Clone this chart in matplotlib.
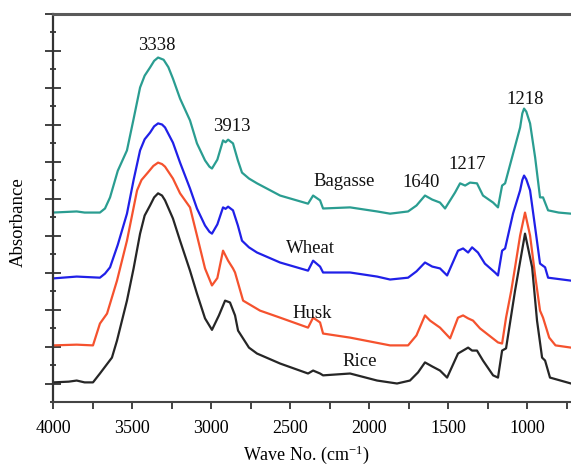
import matplotlib
matplotlib.use("Agg")
import matplotlib.pyplot as plt
from matplotlib.ticker import MultipleLocator, NullFormatter

plt.rcParams['font.family'] = ['Liberation Serif', 'DejaVu Serif']
plt.rcParams['mathtext.fontset'] = 'custom'
plt.rcParams['mathtext.rm'] = 'Liberation Serif'
plt.rcParams['mathtext.it'] = 'Liberation Serif:italic'

# ---- data (wavenumber cm-1, absorbance in arbitrary offset units) ----
wn_bagasse = [4000, 3900, 3850, 3800, 3703, 3671, 3639, 3590, 3532, 3490, 3449, 3420, 3386, 3360, 3335,
              3300, 3270, 3241, 3196, 3133, 3089, 3038, 3010, 2994, 2960, 2924, 2908, 2892, 2861, 2830,
              2804, 2760, 2709, 2563, 2386, 2354, 2310, 2291, 2120, 1949, 1867, 1753, 1700, 1646, 1600,
              1551, 1519, 1456, 1424, 1392, 1361, 1317, 1279, 1215, 1184, 1158, 1139, 1095, 1044, 1030,
              1019, 1005, 981, 949, 918, 899, 867, 800, 722]
abs_bagasse = [4.62, 4.64, 4.65, 4.62, 4.62, 4.73, 5.03, 5.75, 6.30, 7.15, 8.00, 8.32, 8.54, 8.72, 8.81,
               8.75, 8.55, 8.24, 7.70, 7.11, 6.49, 6.03, 5.86, 5.81, 6.05, 6.57, 6.52, 6.59, 6.49, 6.03,
               5.70, 5.54, 5.41, 5.08, 4.86, 5.08, 4.95, 4.73, 4.76, 4.65, 4.59, 4.65, 4.81, 5.08, 4.97,
               4.89, 4.73, 5.16, 5.41, 5.35, 5.43, 5.41, 5.08, 4.89, 4.76, 5.35, 5.41, 6.11, 6.92, 7.30,
               7.43, 7.35, 7.03, 6.11, 5.03, 5.03, 4.68, 4.62, 4.59]

wn_wheat = [4000, 3850, 3703, 3671, 3639, 3590, 3532, 3490, 3449, 3420, 3386, 3360, 3335, 3310, 3291,
            3241, 3196, 3133, 3089, 3038, 3010, 2994, 2960, 2924, 2908, 2892, 2861, 2830, 2804, 2760,
            2709, 2563, 2386, 2354, 2310, 2291, 2120, 1949, 1867, 1753, 1700, 1646, 1600, 1551, 1506,
            1437, 1405, 1373, 1348, 1311, 1267, 1203, 1184, 1158, 1139, 1089, 1044, 1030, 1019, 1005,
            981, 949, 918, 886, 867, 722]
abs_wheat = [2.84, 2.89, 2.86, 2.97, 3.14, 3.75, 4.59, 5.50, 6.30, 6.60, 6.78, 6.95, 7.03, 7.00, 6.92,
             6.51, 5.97, 5.27, 4.73, 4.27, 4.10, 4.05, 4.30, 4.76, 4.72, 4.78, 4.68, 4.27, 3.86, 3.68,
             3.54, 3.27, 3.05, 3.32, 3.16, 3.00, 3.00, 2.89, 2.81, 2.86, 3.03, 3.27, 3.16, 3.11, 2.92,
             3.59, 3.65, 3.54, 3.68, 3.54, 3.24, 3.00, 2.92, 3.59, 3.65, 4.59, 5.22, 5.50, 5.62, 5.52,
             5.22, 4.22, 3.24, 3.14, 2.86, 2.78]

wn_husk = [4000, 3850, 3747, 3703, 3658, 3595, 3532, 3468, 3440, 3400, 3365, 3335, 3310, 3291, 3241,
           3196, 3133, 3089, 3038, 2994, 2960, 2924, 2892, 2861, 2848, 2797, 2690, 2563, 2386, 2354,
           2310, 2291, 2120, 1867, 1753, 1700, 1646, 1614, 1551, 1487, 1437, 1405, 1373, 1342, 1298,
           1184, 1158, 1133, 1100, 1076, 1044, 1013, 981, 949, 918, 899, 860, 820, 722]
abs_husk = [1.03, 1.05, 1.03, 1.62, 1.89, 2.78, 3.86, 5.22, 5.50, 5.70, 5.88, 5.97, 5.93, 5.86, 5.54,
            5.14, 4.76, 4.00, 3.11, 2.65, 2.85, 3.59, 3.32, 3.11, 3.00, 2.24, 1.97, 1.78, 1.51, 1.78,
            1.65, 1.35, 1.24, 1.03, 1.03, 1.30, 1.84, 1.70, 1.51, 1.22, 1.78, 1.84, 1.76, 1.70, 1.49,
            1.11, 1.08, 1.78, 2.51, 3.14, 4.00, 4.62, 4.00, 2.92, 1.97, 1.78, 1.24, 1.03, 0.97]

wn_rice = [4000, 3900, 3850, 3800, 3747, 3703, 3627, 3595, 3532, 3490, 3449, 3420, 3386, 3360, 3335,
           3310, 3291, 3241, 3196, 3133, 3089, 3038, 2994, 2950, 2911, 2880, 2848, 2829, 2760, 2709,
           2563, 2386, 2354, 2310, 2291, 2120, 1949, 1823, 1741, 1690, 1646, 1600, 1551, 1506, 1437,
           1405, 1373, 1348, 1317, 1279, 1215, 1184, 1158, 1133, 1076, 1013, 968, 937, 905, 886, 855,
           722]
abs_rice = [0.03, 0.05, 0.08, 0.03, 0.03, 0.27, 0.70, 1.16, 2.24, 3.11, 4.05, 4.54, 4.81, 5.03, 5.14,
            5.08, 4.95, 4.46, 3.86, 3.05, 2.43, 1.76, 1.45, 1.84, 2.24, 2.19, 1.84, 1.43, 0.97, 0.81,
            0.54, 0.27, 0.35, 0.27, 0.22, 0.27, 0.08, 0.00, 0.08, 0.30, 0.57, 0.46, 0.35, 0.16, 0.81,
            0.89, 0.97, 0.89, 0.89, 0.62, 0.22, 0.16, 0.89, 0.95, 2.51, 4.05, 3.14, 1.70, 0.70, 0.62,
            0.16, 0.00]

series_names = ["Bagasse", "Wheat", "Husk", "Rice"]
series_colors = ["#2a9d91", "#2020e8", "#f5522e", "#262626"]

# annotations: (text, wavenumber, absorbance)
annotations = [("3338", 3340, 9.14), ("3913", 2867, 6.95), ("Bagasse", 2158, 5.46),
               ("1640", 1671, 5.43), ("1217", 1380, 5.93), ("1218", 1013, 7.68),
               ("Wheat", 2373, 3.65), ("Husk", 2361, 1.89), ("Rice", 2057, 0.59)]

xticks = [4000, 3500, 3000, 2500, 2000, 1500, 1000]

# ---- figure ----
W, H = 571, 466
fig = plt.figure(figsize=(W / 100, H / 100), dpi=100)
ax = fig.add_axes([53 / W, (H - 402) / H, (W - 53) / W, (402 - 13.5) / H])

xs = [wn_bagasse, wn_wheat, wn_husk, wn_rice]
ys = [abs_bagasse, abs_wheat, abs_husk, abs_rice]
for x, y, c, n in zip(xs, ys, series_colors, series_names):
    ax.plot(x, y, color=c, lw=1.6, label=n, solid_joinstyle='round')

for t, xv, yv in annotations:
    ax.text(xv, yv, t, ha='center', va='center', fontsize=13.5, color='#111111')

ax.set_xlim(4000, 722)
ax.set_ylim(-0.5, 10.0)

ax.set_xticks(xticks)
ax.set_xticklabels([str(v) for v in xticks])
ax.xaxis.set_minor_locator(MultipleLocator(250))
ax.yaxis.set_major_locator(MultipleLocator(1))
ax.yaxis.set_minor_locator(MultipleLocator(0.5))
ax.yaxis.set_major_formatter(NullFormatter())

ax.tick_params(axis='x', which='both', direction='out', length=5, width=1.3,
               color='#333333', labelsize=13, pad=8)
ax.tick_params(axis='y', which='major', direction='inout', length=11, width=1.3, color='#333333')
ax.tick_params(axis='y', which='minor', direction='inout', length=5, width=1.3, color='#333333')

ax.spines['right'].set_visible(False)
ax.spines['top'].set_color('#5a5a5a')
ax.spines['top'].set_linewidth(2.2)
ax.spines['left'].set_color('#333333')
ax.spines['left'].set_linewidth(1.6)
ax.spines['bottom'].set_color('#444444')
ax.spines['bottom'].set_linewidth(1.5)

ax.set_xlabel("Wave No. (cm$^{-1}$)", fontsize=13)
ax.xaxis.label.set_va('center')
ax.xaxis.set_label_coords((306 - 53) / (W - 53), (402 - 455) / (402 - 13.5))
ax.set_ylabel("Absorbance", fontsize=13.5)
ax.yaxis.label.set_va('center')
ax.yaxis.set_label_coords((18 - 53) / (W - 53), (402 - 222) / (402 - 13.5))

fig.savefig("out.png", dpi=100)
